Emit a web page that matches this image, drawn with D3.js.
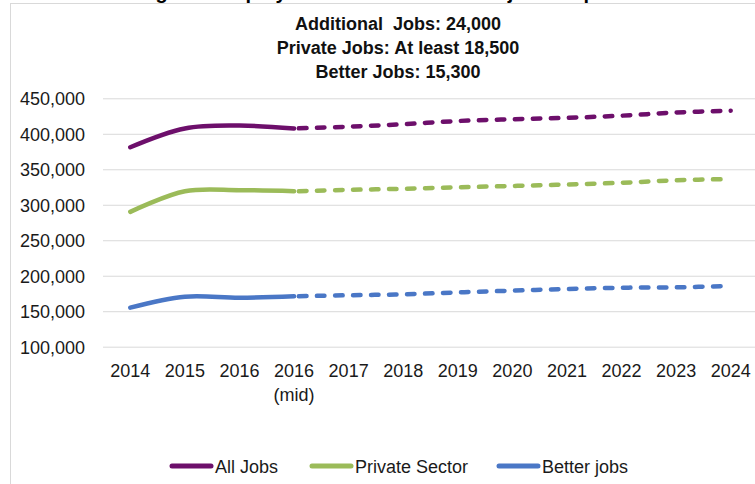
<!DOCTYPE html>
<html>
<head>
<meta charset="utf-8">
<script src="https://cdn.jsdelivr.net/npm/d3@7"></script>
<style>
  html, body { margin: 0; padding: 0; background: #fff; }
  svg { display: block; font-family: "Liberation Sans", Arial, sans-serif; }
</style>
</head>
<body>
<svg id="chart" width="755" height="484"></svg>
<script>
// ---- data ----
const categories = ["2014", "2015", "2016", "2016|(mid)", "2017", "2018", "2019", "2020", "2021", "2022", "2023", "2024"];
const allJobs     = [381000, 407500, 411500, 407500, 410000, 413500, 418000, 420500, 422500, 425500, 430000, 432500];
const privateJobs = [290000, 319000, 320500, 319000, 321000, 322500, 324500, 326500, 328500, 331000, 334500, 336300];
const betterJobs  = [155000, 170500, 169000, 171000, 172500, 173800, 176500, 179000, 181300, 183100, 183700, 185500];
const seriesNames = ["All Jobs", "Private Sector", "Better jobs"];
const seriesColors = ["#6d0f6b", "#9bbb59", "#4a77c6"];
const yTicks = [100000, 150000, 200000, 250000, 300000, 350000, 400000, 450000];
const subtitleLines = ["Additional  Jobs: 24,000", "Private Jobs: At least 18,500", "Better Jobs: 15,300"];
const titleText = "Targeted Employment Growth: Jobs Projected up to 2024";
const actualCount = 4; // 2014 .. 2016 (mid) are actual, rest projected

const series = [allJobs, privateJobs, betterJobs];

const svg = d3.select("#chart");

// frame
svg.append("rect").attr("x", 10.5).attr("y", 3.5).attr("width", 800).attr("height", 520)
  .attr("fill", "#fff").attr("stroke", "#d9d9d9").attr("stroke-width", 1);

// clipped title above the frame (as in the reference)
svg.append("text").attr("x", 398).attr("y", -1).attr("text-anchor", "middle")
  .attr("font-weight", "bold").attr("font-size", 20).attr("fill", "#000").text(titleText);

// subtitle
svg.append("g").selectAll("text").data(subtitleLines).join("text")
  .attr("x", 398).attr("y", (d, i) => 29.5 + i * 24.3)
  .attr("text-anchor", "middle").attr("font-weight", "bold").attr("font-size", 18)
  .attr("fill", "#111").style("white-space", "pre").text(d => d);

// scales
const x = d3.scaleBand().domain(categories).range([103, 758]).padding(0);
const y = d3.scaleLinear().domain([100000, 450000]).range([346.7, 98.3]);

// gridlines + y labels
const yAxis = d3.axisLeft(y).tickValues(yTicks).tickSize(-(755 - 103)).tickFormat(d3.format(","));
const gy = svg.append("g").attr("transform", "translate(103,0)").call(yAxis);
gy.select(".domain").remove();
gy.selectAll(".tick line").attr("stroke", "#d9d9d9").attr("stroke-width", 1);
gy.selectAll(".tick text").attr("x", -18).attr("dy", "0.36em").attr("font-size", 18)
  .attr("fill", "#1a1a1a").attr("font-family", "Liberation Sans, Arial, sans-serif");

// x axis labels
const xAxis = d3.axisBottom(x).tickSize(0).tickFormat(() => "");
const gx = svg.append("g").attr("transform", "translate(0,346.7)").call(xAxis);
gx.select(".domain").remove();
gx.selectAll(".tick").each(function(d) {
  const parts = d.split("|");
  const t = d3.select(this).append("text").attr("text-anchor", "middle")
    .attr("font-size", 18).attr("fill", "#1a1a1a");
  parts.forEach((p, i) => t.append("tspan").attr("x", 0).attr("y", 30 + i * 24).text(p));
});

// lines
const line = d3.line()
  .x(d => x(categories[d.i]) + x.bandwidth() / 2)
  .y(d => y(d.v))
  .curve(d3.curveCatmullRom.alpha(0.5));

series.forEach((vals, s) => {
  const pts = vals.map((v, i) => ({ v, i }));
  const solid = pts.slice(0, actualCount);
  const dashed = pts.slice(actualCount - 1);
  svg.append("path").attr("d", line(solid)).attr("fill", "none")
    .attr("stroke", seriesColors[s]).attr("stroke-width", 4.5).attr("stroke-linecap", "round")
    .attr("stroke-linejoin", "round");
  svg.append("path").attr("d", line(dashed)).attr("fill", "none")
    .attr("stroke", seriesColors[s]).attr("stroke-width", 4.5).attr("stroke-linecap", "round")
    .attr("stroke-dasharray", "7.5,10.5").attr("stroke-dashoffset", -5);
});

// legend
const legendX = [170, 310, 497];
const lg = svg.append("g");
seriesNames.forEach((name, i) => {
  lg.append("line").attr("x1", legendX[i] + 2).attr("x2", legendX[i] + 41)
    .attr("y1", 466).attr("y2", 466).attr("stroke", seriesColors[i])
    .attr("stroke-width", 5).attr("stroke-linecap", "round");
  lg.append("text").attr("x", legendX[i] + 45).attr("y", 473).attr("font-size", 18)
    .attr("fill", "#1a1a1a").text(name);
});
</script>
</body>
</html>
